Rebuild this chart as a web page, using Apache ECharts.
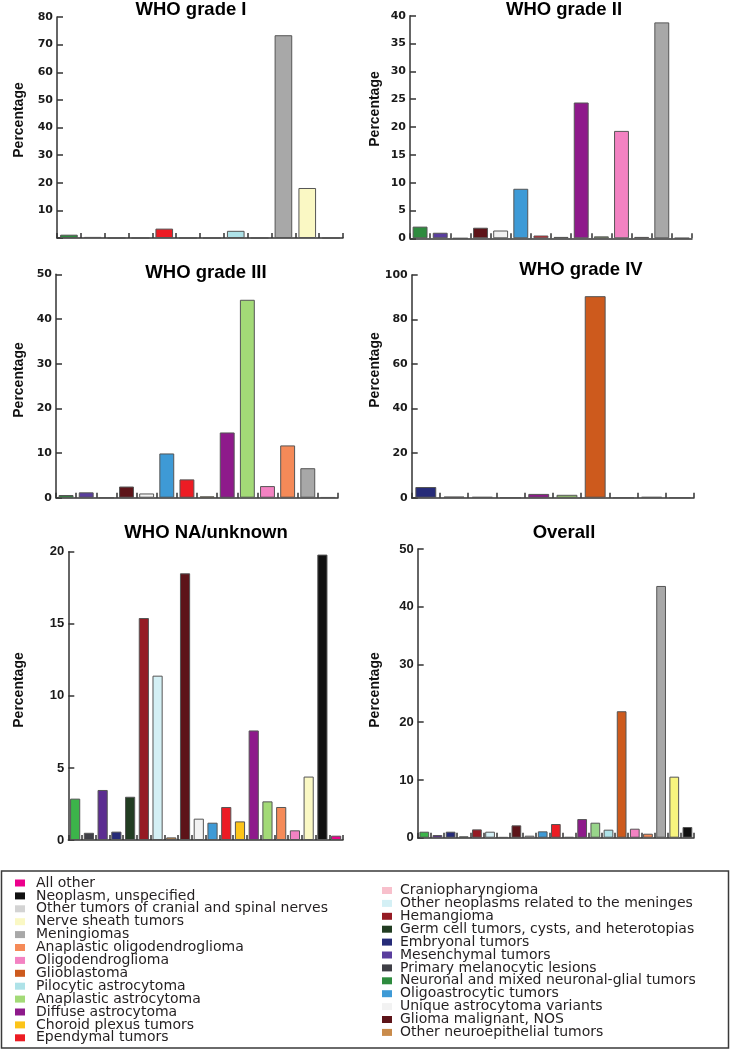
<!DOCTYPE html>
<html><head><meta charset="utf-8">
<script src="https://cdn.jsdelivr.net/npm/echarts@6/dist/echarts.min.js"></script>
<style>html,body{margin:0;padding:0;background:#fff}#c{width:730px;height:1050px}</style>
</head><body><div id="c"></div>
<script>
// ---------- Legend categories ----------
const legendLeft = ['All other','Neoplasm, unspecified','Other tumors of cranial and spinal nerves','Nerve sheath tumors','Meningiomas','Anaplastic oligodendroglioma','Oligodendroglioma','Glioblastoma','Pilocytic astrocytoma','Anaplastic astrocytoma','Diffuse astrocytoma','Choroid plexus tumors','Ependymal tumors'];
const legendRight = ['Craniopharyngioma','Other neoplasms related to the meninges','Hemangioma','Germ cell tumors, cysts, and heterotopias','Embryonal tumors','Mesenchymal tumors','Primary melanocytic lesions','Neuronal and mixed neuronal-glial tumors','Oligoastrocytic tumors','Unique astrocytoma variants','Glioma malignant, NOS','Other neuroepithelial tumors'];

// ---------- Panel data (percentages) ----------
const gradeICats = ['Neuronal and mixed neuronal-glial tumors','Mesenchymal tumors','Embryonal tumors','Glioma malignant, NOS','Ependymal tumors','Choroid plexus tumors','Diffuse astrocytoma','Pilocytic astrocytoma','Oligodendroglioma','Meningiomas','Nerve sheath tumors','Neoplasm, unspecified'];
const gradeIValues = [1.2, 0.4, 0, 0, 3.4, 0, 0, 2.6, 0, 73.4, 18.1, 0];

const gradeIICats = ['Neuronal and mixed neuronal-glial tumors','Mesenchymal tumors','Embryonal tumors','Glioma malignant, NOS','Unique astrocytoma variants','Oligoastrocytic tumors','Ependymal tumors','Choroid plexus tumors','Diffuse astrocytoma','Anaplastic astrocytoma','Oligodendroglioma','Anaplastic oligodendroglioma','Meningiomas','Neoplasm, unspecified'];
const gradeIIValues = [2.1, 1.0, 0, 1.9, 1.4, 8.9, 0.5, 0.25, 24.4, 0.35, 19.3, 0.25, 38.8, 0.05];

const gradeIIICats = ['Neuronal and mixed neuronal-glial tumors','Mesenchymal tumors','Embryonal tumors','Glioma malignant, NOS','Unique astrocytoma variants','Oligoastrocytic tumors','Ependymal tumors','Choroid plexus tumors','Diffuse astrocytoma','Anaplastic astrocytoma','Oligodendroglioma','Anaplastic oligodendroglioma','Meningiomas','Neoplasm, unspecified'];
const gradeIIIValues = [0.6, 1.2, 0, 2.5, 0.95, 9.9, 4.1, 0.3, 14.6, 44.3, 2.6, 11.7, 6.6, 0.1];

const gradeIVCats = ['Embryonal tumors','Glioma malignant, NOS','Oligoastrocytic tumors','Ependymal tumors','Diffuse astrocytoma','Anaplastic astrocytoma','Glioblastoma','Oligodendroglioma','Anaplastic oligodendroglioma','Neoplasm, unspecified'];
const gradeIVValues = [4.8, 0.5, 0.35, 0, 1.7, 1.3, 90.5, 0, 0.35, 0];

const naCats = ['Neuronal and mixed neuronal-glial tumors','Primary melanocytic lesions','Mesenchymal tumors','Embryonal tumors','Germ cell tumors, cysts, and heterotopias','Hemangioma','Other neoplasms related to the meninges','Other neuroepithelial tumors','Glioma malignant, NOS','Unique astrocytoma variants','Oligoastrocytic tumors','Ependymal tumors','Choroid plexus tumors','Diffuse astrocytoma','Anaplastic astrocytoma','Anaplastic oligodendroglioma','Oligodendroglioma','Nerve sheath tumors','Neoplasm, unspecified','All other'];
const naValues = [2.87, 0.5, 3.47, 0.58, 3.0, 15.4, 11.4, 0.18, 18.5, 1.48, 1.2, 2.29, 1.29, 7.6, 2.68, 2.29, 0.67, 4.4, 19.8, 0.3];

const overallCats = ['Neuronal and mixed neuronal-glial tumors','Mesenchymal tumors','Embryonal tumors','Germ cell tumors, cysts, and heterotopias','Hemangioma','Other neoplasms related to the meninges','Other neuroepithelial tumors','Glioma malignant, NOS','Unique astrocytoma variants','Oligoastrocytic tumors','Ependymal tumors','Choroid plexus tumors','Diffuse astrocytoma','Anaplastic astrocytoma','Pilocytic astrocytoma','Glioblastoma','Oligodendroglioma','Anaplastic oligodendroglioma','Meningiomas','Nerve sheath tumors','Neoplasm, unspecified'];
const overallValues = [1.04, 0.46, 1.04, 0.23, 1.44, 1.04, 0.1, 2.14, 0.35, 1.1, 2.37, 0.12, 3.23, 2.6, 1.39, 21.9, 1.56, 0.69, 43.6, 10.57, 1.85];

const titles = ['WHO grade I','WHO grade II','WHO grade III','WHO grade IV','WHO NA/unknown','Overall'];
const yMax = [80, 40, 50, 100, 20, 50];
const yInterval = [10, 5, 10, 20, 5, 10];

// ---------- Styles ----------
const baseColors = {
  'All other':'#EC008C','Neoplasm, unspecified':'#111111','Other tumors of cranial and spinal nerves':'#D3D3D3',
  'Nerve sheath tumors':'#FAF8C4','Meningiomas':'#A8A8A8','Anaplastic oligodendroglioma':'#F58A58',
  'Oligodendroglioma':'#F382C2','Glioblastoma':'#CD5A1D','Pilocytic astrocytoma':'#AEE2E8',
  'Anaplastic astrocytoma':'#A3DA77','Diffuse astrocytoma':'#8E1A8B','Choroid plexus tumors':'#FCC419',
  'Ependymal tumors':'#EC1C24','Craniopharyngioma':'#F8C0CC','Other neoplasms related to the meninges':'#D4F0F5',
  'Hemangioma':'#951B24','Germ cell tumors, cysts, and heterotopias':'#223D22','Embryonal tumors':'#262B78',
  'Mesenchymal tumors':'#5A3E9E','Primary melanocytic lesions':'#3F3F46','Neuronal and mixed neuronal-glial tumors':'#2E8B3E',
  'Oligoastrocytic tumors':'#3E9AD6','Unique astrocytoma variants':'#F2F2F2','Glioma malignant, NOS':'#5D1419',
  'Other neuroepithelial tumors':'#C98B4B'
};
const panelColorOverrides = [
  {'Mesenchymal tumors':'#9A8E98'},
  {},
  {},
  {},
  {'Neuronal and mixed neuronal-glial tumors':'#3CB44A','Mesenchymal tumors':'#5C2D91'},
  {'Neuronal and mixed neuronal-glial tumors':'#3CB44A','Mesenchymal tumors':'#5C2D91','Nerve sheath tumors':'#F7F47E','Anaplastic astrocytoma':'#98D58A'}
];
const grids = [
  {left:57, top:17, width:286, height:221},
  {left:410, top:15.7, width:282, height:222.6},
  {left:56, top:274.3, width:282, height:223.4},
  {left:411.7, top:275, width:282.3, height:222.7},
  {left:68.3, top:551.7, width:274.7, height:288.3},
  {left:417.7, top:549, width:276.3, height:288.7}
];
const titlePos = [[191,0],[564,0],[206,263],[581,260],[206,523],[564,523]];
const pctPos = [[19,120],[375,109],[19,380],[375,370],[19,690],[375,690]];
const axisColor = '#333';
const titleFont = '"Liberation Sans",Arial,sans-serif';

const panelCats = [gradeICats, gradeIICats, gradeIIICats, gradeIVCats, naCats, overallCats];
const panelVals = [gradeIValues, gradeIIValues, gradeIIIValues, gradeIVValues, naValues, overallValues];

const legendCommon = {orient:'vertical', selectedMode:false, icon:'rect', itemWidth:10, itemHeight:7, itemGap:-1.1, padding:0, height:178};

const option = {
  animation:false,
  backgroundColor:'#fff',
  title: titles.map((t,i)=>({text:t, left:titlePos[i][0], top:titlePos[i][1], textAlign:'center', padding:0,
    textStyle:{fontFamily:titleFont, fontWeight:'bold', fontSize:18.5, color:'#000'}})),
  grid: grids.map(g=>Object.assign({containLabel:false}, g)).concat([{left:-200, top:-200, width:10, height:10, show:false}]),
  xAxis: panelCats.map((cats,i)=>({gridIndex:i, type:'category', data:cats,
    axisLabel:{show:false},
    axisLine:{lineStyle:{color:axisColor, width:1.5}},
    axisTick:{show:true, inside:true, length:5, interval:0, lineStyle:{color:axisColor, width:1.5}}
  })).concat([{gridIndex:6, type:'category', show:false, data:['x']}]),
  yAxis: panelCats.map((cats,i)=>({gridIndex:i, type:'value', min:0, max:yMax[i], interval:yInterval[i],
    splitLine:{show:false},
    axisLine:{show:true, lineStyle:{color:axisColor, width:1.5}},
    axisTick:{show:true, inside:true, length:6, lineStyle:{color:axisColor, width:1.5}},
    axisLabel:{margin:4, color:'#1a1a1a', fontWeight:'bold',
      fontFamily: i>=4 ? '"Liberation Sans",sans-serif' : '"DejaVu Sans",sans-serif',
      fontSize: i>=4 ? 13 : 11,
      formatter: v => (i===0 && v===0) ? '' : String(v)}
  })).concat([{gridIndex:6, type:'value', show:false}]),
  legend: [
    Object.assign({data:legendLeft, left:15, top:876,
      textStyle:{fontFamily:'"DejaVu Sans",sans-serif', fontSize:14, color:'#231f20', padding:[0,0,0,6]}}, legendCommon),
    Object.assign({data:legendRight, left:382, top:883.5,
      textStyle:{fontFamily:'"DejaVu Sans",sans-serif', fontSize:14, color:'#231f20', padding:[0,0,0,3]}}, legendCommon)
  ],
  graphic: pctPos.map(p=>({type:'text', x:p[0], y:p[1], rotation:Math.PI/2,
      style:{text:'Percentage', font:'bold 14px "Liberation Sans", sans-serif', fill:'#111', align:'center', verticalAlign:'middle'}}))
    .concat([{type:'rect', shape:{x:1.5, y:871, width:727, height:177}, style:{fill:'none', stroke:'#3a3a3a', lineWidth:1.5}}]),
  series: panelCats.map((cats,i)=>({
    type:'bar', xAxisIndex:i, yAxisIndex:i, barWidth:'74%',
    itemStyle:{borderColor:'#555', borderWidth:1},
    data: panelVals[i].map((v,k)=>({value:v, itemStyle:{color: panelColorOverrides[i][cats[k]] || baseColors[cats[k]]}}))
  })).concat(legendLeft.concat(legendRight).map(n=>({
    type:'bar', name:n, xAxisIndex:6, yAxisIndex:6, data:[], itemStyle:{color:baseColors[n]}
  })))
};
const chart = echarts.init(document.getElementById('c'), null, {renderer:'canvas'});
chart.setOption(option);
</script></body></html>
